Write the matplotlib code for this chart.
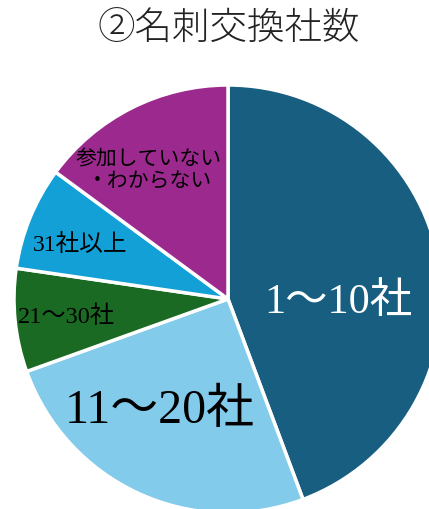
import matplotlib
matplotlib.use("Agg")
import matplotlib.pyplot as plt

categories = ["1～10社", "11～20社", "21～30社", "31社以上", "参加していない\n・わからない"]
values = [44.3, 25.2, 7.8, 7.8, 14.9]
colors = ["#175e80", "#82cbea", "#1b6a24", "#12a0d6", "#9c2a8e"]
title = "②名刺交換社数"

fig = plt.figure(figsize=(4.29, 5.10), dpi=100)
W, H = 429, 510
cx, cy, R = 228, 300, 214
ax = fig.add_axes([(cx - R) / W, (H - cy - R) / H, 2 * R / W, 2 * R / H])
ax.pie(values, colors=colors, startangle=90, counterclock=False, radius=1,
       wedgeprops=dict(edgecolor="white", linewidth=2.5))
ax.set_xlim(-1, 1)
ax.set_ylim(-1, 1)
ax.set_aspect("equal")
ax.axis("off")

serif = ["Liberation Serif", "Noto Sans CJK JP"]

def px(x, y):
    return (x - cx) / R, (cy - y) / R

label_specs = [
    (338, 303, 30.5, "white"),
    (160, 411, 34.5, "black"),
    (66, 317, 17.5, "black"),
    (80, 245, 17, "black"),
    (149, 172, 15, "black"),
]
for cat, (x, y, fs, col) in zip(categories, label_specs):
    dx, dy = px(x, y)
    ax.text(dx, dy, cat, ha="center", va="center", fontsize=fs, color=col,
            family=serif, linespacing=1.25)

fig.text(229 / W, 1 - 28 / H, title, ha="center", va="center", fontsize=27,
         family=["Noto Sans CJK JP", "DejaVu Sans"], weight="light", color="#222222")

fig.savefig("out.png", dpi=100)
